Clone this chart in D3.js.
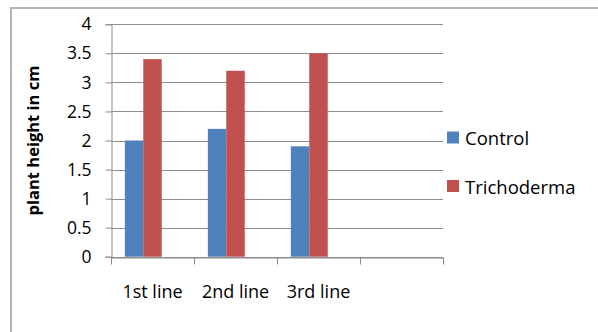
<!DOCTYPE html>
<html>
<head>
<meta charset="utf-8">
<script src="https://cdn.jsdelivr.net/npm/d3@7"></script>
<style>
  html, body { margin: 0; padding: 0; background: #fff; }
  svg { display: block; }
  text { font-family: "Open Sans", "Noto Sans", sans-serif; fill: #000; }
</style>
</head>
<body>
<svg id="chart" width="598" height="332"></svg>
<script>
// Plant height per line, control vs. Trichoderma treatment
const categories = ["1st line", "2nd line", "3rd line", ""];
const seriesNames = ["Control", "Trichoderma"];
const controlValues = [2.0, 2.2, 1.9];
const trichodermaValues = [3.4, 3.2, 3.5];
const yTicks = [0, 0.5, 1, 1.5, 2, 2.5, 3, 3.5, 4];
const yTitle = "plant height in cm";

const seriesValues = [controlValues, trichodermaValues];
const colors = ["#4F81BD", "#C0504D"];
// three bar slots per category (third slot is unused)
const barSlots = ["s0", "s1", "s2"];

const svg = d3.select("#chart");

// chart frame (top and left edges)
svg.append("path")
  .attr("d", "M11,332 L11,8 L598,8")
  .attr("fill", "none")
  .attr("stroke", "#b4b4b4")
  .attr("stroke-width", 2);

const plot = { left: 111, right: 443, top: 24.3, bottom: 256.7 };

const x = d3.scaleBand()
  .domain(categories)
  .range([plot.left, plot.right])
  .padding(0);

const x1 = d3.scaleBand()
  .domain(barSlots)
  .range([0, x.bandwidth()])
  .paddingInner(0)
  .paddingOuter(0.75);

const y = d3.scaleLinear()
  .domain([0, 4])
  .range([plot.bottom, plot.top]);

// horizontal gridlines
svg.append("g")
  .selectAll("line")
  .data(yTicks)
  .join("line")
  .attr("x1", plot.left)
  .attr("x2", plot.right)
  .attr("y1", d => Math.round(y(d)) + 0.5)
  .attr("y2", d => Math.round(y(d)) + 0.5)
  .attr("stroke", "#8c8c8c")
  .attr("stroke-width", 1);

// bars
const rows = [];
seriesValues.forEach((vals, si) => {
  vals.forEach((v, ci) => rows.push({ cat: categories[ci], slot: barSlots[si], v, si }));
});
svg.append("g")
  .selectAll("rect")
  .data(rows)
  .join("rect")
  .attr("x", d => x(d.cat) + x1(d.slot))
  .attr("width", x1.bandwidth())
  .attr("y", d => y(d.v))
  .attr("height", d => y(0) - y(d.v))
  .attr("fill", d => colors[d.si]);

// y axis
const yAxis = svg.append("g")
  .attr("transform", `translate(${plot.left + 0.5},0)`)
  .call(d3.axisLeft(y).tickValues(yTicks).tickSize(6).tickPadding(14).tickFormat(d3.format("~g")));
yAxis.select(".domain").attr("stroke", "#8c8c8c");
yAxis.selectAll(".tick line").attr("stroke", "#8c8c8c");
yAxis.selectAll(".tick text")
  .style("font-size", "17.5px")
  .style("font-family", "\"Open Sans\", \"Noto Sans\", sans-serif")
  .attr("fill", "#000");

// x axis
const xAxis = svg.append("g")
  .attr("transform", `translate(0,${Math.round(y(0)) + 0.5})`)
  .call(d3.axisBottom(x).tickSize(0).tickPadding(28));
xAxis.select(".domain").attr("stroke", "#8c8c8c");
xAxis.selectAll(".tick text")
  .style("font-size", "18px")
  .style("font-family", "\"Open Sans\", \"Noto Sans\", sans-serif")
  .attr("fill", "#000");
// category boundary tick marks
const bounds = categories.map(c => x(c)).concat([plot.right]);
xAxis.append("g")
  .selectAll("line")
  .data(bounds)
  .join("line")
  .attr("x1", d => Math.round(d) + 0.5)
  .attr("x2", d => Math.round(d) + 0.5)
  .attr("y1", 0)
  .attr("y2", 7)
  .attr("stroke", "#8c8c8c");

// y axis title
svg.append("text")
  .attr("transform", `translate(32,${(plot.top + plot.bottom) / 2 + 0}) rotate(-90)`)
  .attr("text-anchor", "middle")
  .attr("dominant-baseline", "central")
  .style("font-size", "16.5px")
  .style("font-weight", "bold")
  .text(yTitle);

// legend
const legend = svg.append("g");
const legendY = [137.5, 186];
seriesNames.forEach((name, i) => {
  legend.append("rect")
    .attr("x", 447)
    .attr("y", legendY[i] - 6)
    .attr("width", 12)
    .attr("height", 12)
    .attr("fill", colors[i]);
  legend.append("text")
    .attr("x", 465)
    .attr("y", legendY[i])
    .attr("dominant-baseline", "central")
    .style("font-size", "18.5px")
    .text(name);
});
</script>
</body>
</html>
